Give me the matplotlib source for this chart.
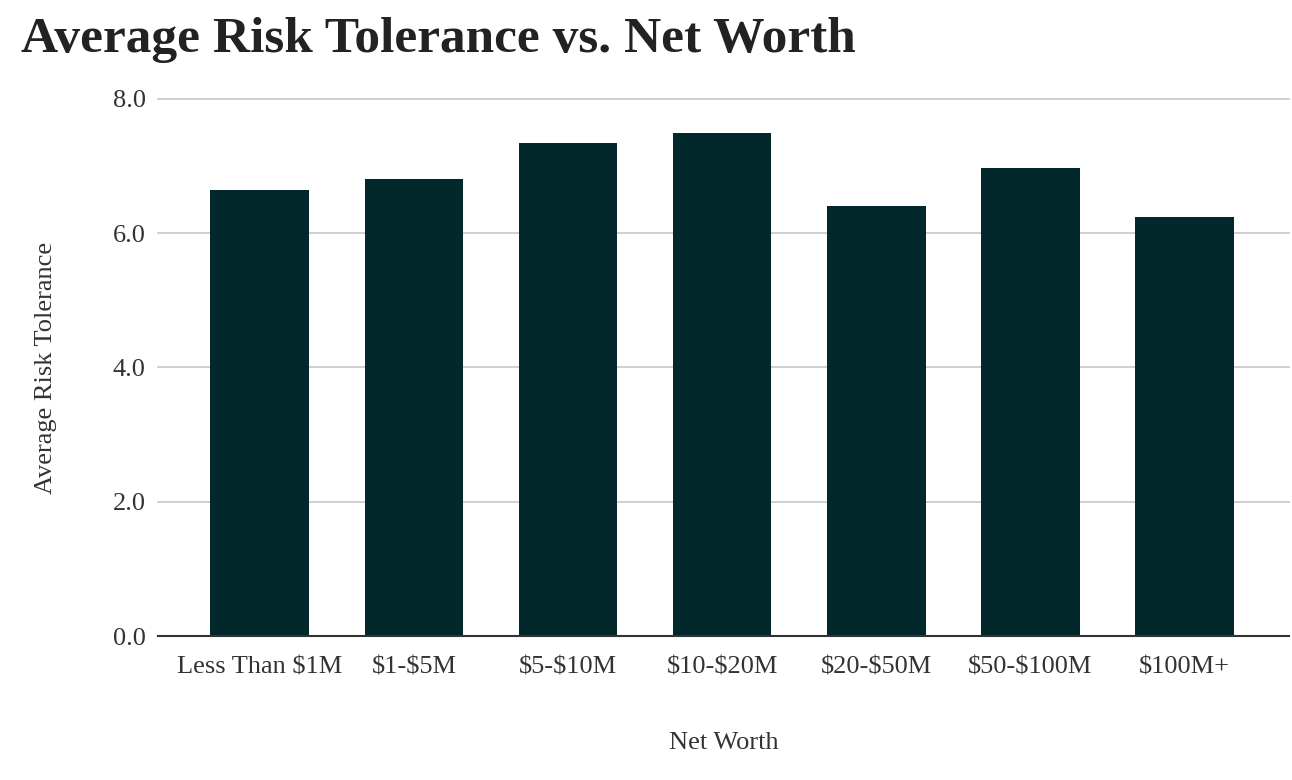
import matplotlib
matplotlib.use('Agg')
import matplotlib.pyplot as plt

categories = ['Less Than $1M', '$1-$5M', '$5-$10M', '$10-$20M', '$20-$50M', '$50-$100M', '$100M+']
risk_tolerance = [6.65, 6.81, 7.35, 7.50, 6.41, 6.97, 6.24]
y_ticks = [0, 2, 4, 6, 8]

plt.rcParams['font.family'] = ['Liberation Serif', 'DejaVu Serif']
plt.rcParams['text.parse_math'] = False

fig = plt.figure(figsize=(12.92, 7.8), dpi=100)
ax = fig.add_axes([0.1223, 0.1846, 0.8757, 0.6885])

ax.bar(range(len(categories)), risk_tolerance, width=0.64, color='#02282b', zorder=3)

ax.set_xlim(-0.66, 6.68)
ax.set_ylim(0, 8)
ax.set_yticks(y_ticks)
ax.set_yticklabels([f'{v:.1f}' for v in y_ticks])
ax.set_xticks(range(len(categories)))
ax.set_xticklabels(categories)
ax.grid(axis='y', color='#cccccc', linewidth=1.3, zorder=0)
for gl in ax.get_ygridlines():
    gl.set_clip_on(False)
ax.tick_params(axis='both', length=0, labelsize=19, labelcolor='#333333')
ax.tick_params(axis='x', pad=15)
ax.tick_params(axis='y', pad=9)

for s in ['top', 'right', 'left']:
    ax.spines[s].set_visible(False)
ax.spines['bottom'].set_color('#333333')
ax.spines['bottom'].set_linewidth(1.5)
ax.spines['bottom'].set_zorder(4)

ax.set_xlabel('Net Worth', fontsize=19, color='#333333', labelpad=38)
ax.set_ylabel('Average Risk Tolerance', fontsize=19, color='#333333', labelpad=40)

fig.text(0.016, 0.978, 'Average Risk Tolerance vs. Net Worth', fontsize=37,
         fontweight='bold', color='#222222', va='top', ha='left')

fig.savefig('out.png', dpi=100, facecolor='white')
